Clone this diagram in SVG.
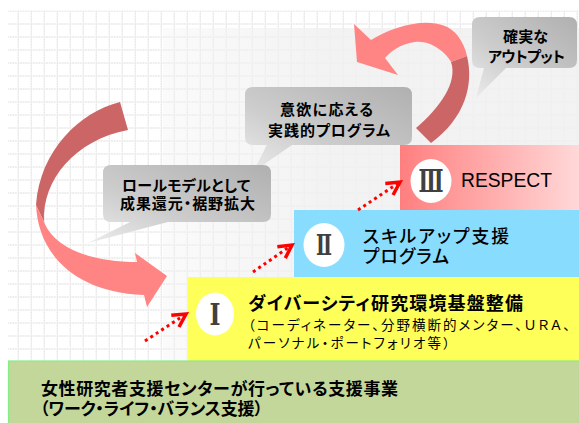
<svg xmlns="http://www.w3.org/2000/svg" width="579" height="423" viewBox="0 0 579 423">
<defs>
<style>
.jp{font-family:"Liberation Sans","Noto Sans CJK JP","Noto Sans CJK SC",sans-serif;font-feature-settings:"palt";fill:#000}
.b{font-weight:bold}
.num{font-family:"DejaVu Serif","Liberation Serif",serif;font-weight:bold;fill:#404040;text-anchor:middle;dominant-baseline:central}
.dot{fill:none;stroke:#ff0000;stroke-width:3;stroke-dasharray:3 3.5}
.dark{fill:#cc6666}
.pink{fill:#ff8484}
.circ{fill:#ffffff}
</style>
<pattern id="grid" x="4.7" y="10.5" width="13" height="13" patternUnits="userSpaceOnUse">
<path d="M0,0.5H13M0.5,0V13" stroke="#cdcdcd" stroke-width="1" stroke-dasharray="1.3 1.3" fill="none"/>
</pattern>
<linearGradient id="ov" x1="163" y1="0" x2="330" y2="0" gradientUnits="userSpaceOnUse">
<stop offset="0" stop-color="#f2f2f2" stop-opacity="0.35"/>
<stop offset="1" stop-color="#f0f0f0" stop-opacity="0.85"/>
</linearGradient>
<linearGradient id="pk" x1="0" y1="0" x2="1" y2="0">
<stop offset="0" stop-color="#ff7f7f"/>
<stop offset="1" stop-color="#ffd8d8"/>
</linearGradient>
<linearGradient id="gr" x1="1" y1="0" x2="0" y2="1">
<stop offset="0" stop-color="#b0b0b0"/>
<stop offset="0.6" stop-color="#cdcdcd"/>
<stop offset="1" stop-color="#ececec"/>
</linearGradient>
<marker id="ah" markerUnits="userSpaceOnUse" markerWidth="22" markerHeight="22" viewBox="-16 -11 22 22" refX="0" refY="0" orient="auto">
<path d="M-13,-7L0,0L-13,7" fill="none" stroke="#ff0000" stroke-width="3.5" stroke-dasharray="none" stroke-linejoin="miter"/>
</marker>
</defs>
<rect width="579" height="423" fill="#ffffff"/>
<rect x="8" y="10.5" width="571" height="352" fill="url(#grid)"/>
<rect x="163" y="28" width="416" height="333" fill="url(#ov)"/>

<g id="node-respect">
<rect x="400" y="145" width="179" height="65" fill="url(#pk)"/>
<ellipse class="circ" cx="431" cy="181" rx="20.5" ry="22"/>
<text class="num" x="431" y="181" font-size="31" textLength="25" lengthAdjust="spacingAndGlyphs">Ⅲ</text>
<text x="461" y="187" font-family="Liberation Sans, Arial, sans-serif" font-size="19.5" textLength="91" lengthAdjust="spacingAndGlyphs">RESPECT</text>
</g>
<g id="node-skillup">
<rect x="294" y="210" width="285" height="67" fill="#88dcfd"/>
<ellipse class="circ" cx="324" cy="245" rx="20.5" ry="22"/>
<text class="num" x="324" y="245" font-size="27" textLength="16" lengthAdjust="spacingAndGlyphs">Ⅱ</text>
<text class="jp" font-size="17.8" font-weight="500"><tspan x="363" y="243" textLength="146" lengthAdjust="spacing">スキルアップ支援</tspan><tspan x="363" y="263.3" textLength="86" lengthAdjust="spacing">プログラム</tspan></text>
</g>
<g id="node-diversity">
<rect x="188" y="277" width="391" height="84" fill="#ffff5a"/>
<ellipse class="circ" cx="215" cy="314" rx="19" ry="21.5"/>
<text class="num" x="215" y="314" font-size="30" textLength="11" lengthAdjust="spacingAndGlyphs">Ⅰ</text>
<text class="jp b" x="248" y="310" font-size="18" textLength="275" lengthAdjust="spacing">ダイバーシティ研究環境基盤整備</text>
<text class="jp" font-size="13.5"><tspan x="248" y="330" textLength="322" lengthAdjust="spacing">（コーディネーター、分野横断的メンター、ＵＲＡ、</tspan><tspan x="248" y="348" textLength="202" lengthAdjust="spacing">パーソナル・ポートフォリオ等）</tspan></text>
</g>
<g id="node-center">
<rect x="8.5" y="361" width="571" height="63" fill="#c4d79b" stroke="#86ec86" stroke-width="1.2"/>
<text class="jp b" font-size="17"><tspan x="41" y="395" textLength="357" lengthAdjust="spacing">女性研究者支援センターが行っている支援事業</tspan><tspan x="40" y="415" textLength="223" lengthAdjust="spacing">（ワーク・ライフ・バランス支援）</tspan></text>
</g>

<g id="callout-output">
<path d="M480,17H569Q577,17 577,25V60Q577,68 569,68H506L476,98L484,68H480Q472,68 472,60V25Q472,17 480,17Z" fill="url(#gr)"/>
<text class="jp b" font-size="15"><tspan x="503" y="42" textLength="45" lengthAdjust="spacing">確実な</tspan><tspan x="488" y="62" textLength="77" lengthAdjust="spacing">アウトプット</tspan></text>
</g>
<g id="callout-program">
<path d="M253,87H404Q412,87 412,95V137Q412,145 404,145H292L253,172L267,145H253Q245,145 245,137V95Q245,87 253,87Z" fill="url(#gr)"/>
<text class="jp b" font-size="15"><tspan x="280" y="115" textLength="93" lengthAdjust="spacing">意欲に応える</tspan><tspan x="268" y="136" textLength="122" lengthAdjust="spacing">実践的プログラム</tspan></text>
</g>
<g id="callout-rolemodel">
<path d="M111,165H263Q271,165 271,173V214Q271,222 263,222H168L88,243L130,222H111Q103,222 103,214V173Q103,165 111,165Z" fill="url(#gr)"/>
<text class="jp b" font-size="15"><tspan x="122" y="191" textLength="128" lengthAdjust="spacing">ロールモデルとして</tspan><tspan x="120" y="209" textLength="135" lengthAdjust="spacing">成果還元・裾野拡大</tspan></text>
</g>

<g id="connectors">
<path class="dark" d="M120,102C80,112 40,150 36,205L44,222C42,180 75,140 128,130Z"/>
<path class="pink" d="M36,205C38,250 70,292 144,295L147,307L167,276L135,253L137,262C95,262 55,250 44,222Z"/>
<path class="pink" d="M354,24L371,40C395,25 440,12 458,36Q465,46 467,56L451,62C446,52 430,40 415,42C400,44 390,52 385,58L398,75L357,62Z"/>
<path class="dark" d="M467,56C474,85 465,118 431,143L416,128C440,108 458,82 451,62Z"/>
<path class="dot" d="M145,341L186,314" marker-end="url(#ah)"/>
<path class="dot" d="M253,272L292,245" marker-end="url(#ah)"/>
<path class="dot" d="M358,210L400,182" marker-end="url(#ah)"/>
</g>
</svg>
